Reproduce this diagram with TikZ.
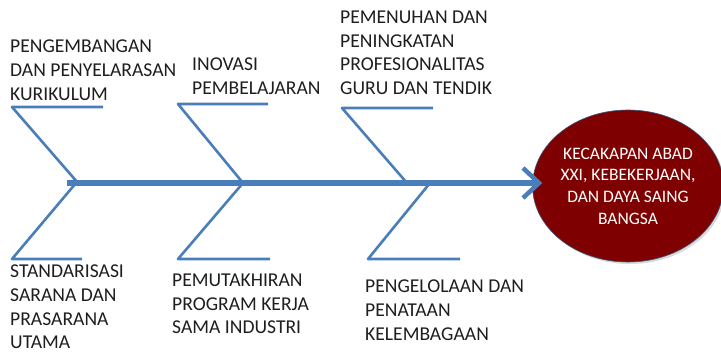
\documentclass[tikz,border=0pt]{standalone}
\usepackage{fontspec}
\setmainfont{Carlito}
\usetikzlibrary{arrows.meta,shapes.geometric,shadows}
\definecolor{bone}{HTML}{4A7EBB}
\definecolor{goalred}{HTML}{7F0000}
\definecolor{ink}{HTML}{1E1E1E}
\tikzset{
  bone/.style={draw=bone,line width=2.6pt,line join=round},
  spine/.style={draw=bone,line width=5.5pt,
    -{Straight Barb[length=16pt,width=30pt,line width=4.5pt]}},
  cause/.style={anchor=north west,inner sep=0pt,align=left,text=ink,
    font=\fontsize{19.6}{23.6}\selectfont},
  goal/.style={ellipse,fill=goalred,draw=bone!70!black,line width=0.6pt,
    minimum width=182pt,minimum height=152pt,inner sep=0pt,align=center,
    text=white,font=\fontsize{17.5}{21.7}\selectfont,
    drop shadow={opacity=0.3,shadow xshift=2pt,shadow yshift=-2pt}}
}
\begin{document}
\begin{tikzpicture}[x=1pt,y=-1pt]
  \useasboundingbox (0,0) rectangle (721,355);
  % Hình elip đích
  \node[goal] (goal) at (628,186) {KECAKAPAN ABAD\\XXI, KEBEKERJAAN,\\DAN DAYA SAING\\BANGSA};
  % Các xương phía trên
  \foreach \i/\jx/\cx/\cy/\ex in {1/78/12/107/103, 2/243/178/104/268, 3/407/342/108/433}{
    \coordinate (tj\i) at (\jx,183);
    \coordinate (tc\i) at (\cx,\cy);
    \coordinate (te\i) at (\ex,\cy);
    \draw[bone] (te\i) -- (tc\i) -- (tj\i);
  }
  % Các xương phía dưới
  \foreach \i/\jx/\cx/\cy/\ex in {1/76/12/259/82, 2/243/178/259/270, 3/430/368/259/460}{
    \coordinate (bj\i) at (\jx,183);
    \coordinate (bc\i) at (\cx,\cy);
    \coordinate (be\i) at (\ex,\cy);
    \draw[bone] (bj\i) -- (bc\i) -- (be\i);
  }
  % Xương sống và mũi tên
  \coordinate (tail) at (67,183);
  \draw[spine] (tail) -- ([xshift=10pt]goal.west |- tail);
  % Nhãn nguyên nhân
  \node[cause] (kurikulum) at (10,40) {PENGEMBANGAN\\DAN PENYELARASAN\\KURIKULUM};
  \node[cause] (inovasi) at (192,58) {INOVASI\\PEMBELAJARAN};
  \node[cause] (guru) at (340,11) {PEMENUHAN DAN\\PENINGKATAN\\PROFESIONALITAS\\GURU DAN TENDIK};
  \node[cause] (sarana) at (10,265) {STANDARISASI\\SARANA DAN\\PRASARANA\\UTAMA};
  \node[cause] (industri) at (172,274) {PEMUTAKHIRAN\\PROGRAM KERJA\\SAMA INDUSTRI};
  \node[cause] (lembaga) at (365,280) {PENGELOLAAN DAN\\PENATAAN\\KELEMBAGAAN};
\end{tikzpicture}
\end{document}
